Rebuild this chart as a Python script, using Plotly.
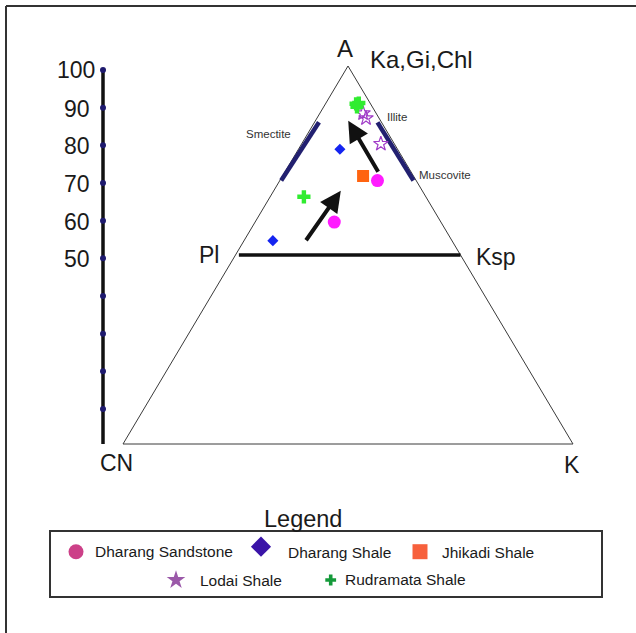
import numpy as np
import plotly.graph_objects as go

# ---------------- data (ternary A - CN - K, percent) ----------------
sand_A = [69.7, 58.7]
sand_CN = [8.6, 23.7]
sand_K = [21.7, 17.6]

dshale_A = [78.0, 53.8]
dshale_CN = [12.8, 39.8]
dshale_K = [9.2, 6.4]

jhikadi_A = [70.9]
jhikadi_CN = [11.2]
jhikadi_K = [17.9]

lodai_A = [87.5, 86.2, 79.4]
lodai_CN = [2.9, 2.9, 3.0]
lodai_K = [9.6, 10.9, 17.6]

rudra_A = [90.0, 90.2, 89.2, 65.4]
rudra_CN = [3.2, 2.5, 3.4, 27.1]
rudra_K = [6.8, 7.3, 7.4, 7.5]

# weathering trend arrows: tail (A, K) -> tip (A, K)
arrow_tail_A = [53.5, 71.6]
arrow_tail_K = [13.7, 21.1]
arrow_tip_A = [67.0, 85.5]
arrow_tip_K = [14.9, 7.3]

# mineral bars along the edges (A range)
bar_A = [85.1, 69.7]

scale_values = [10, 20, 30, 40, 50, 60, 70, 80, 90, 100]
scale_labels = ["100", "90", "80", "70", "60", "50"]
scale_label_values = [100, 90, 80, 70, 60, 50]

legend_names = ["Dharang Sandstone", "Dharang Shale", "Jhikadi Shale",
                "Lodai Shale", "Rudramata Shale"]

FONT = "Liberation Sans, Arial, sans-serif"
TXT = "#1a1a1a"


def txy(A, CN, K):
    A = np.asarray(A, float)
    CN = np.asarray(CN, float)
    K = np.asarray(K, float)
    s = A + CN + K
    a = A / s * 100
    k = K / s * 100
    return k + a / 2, a


fig = go.Figure()

# triangle outline
tx, ty = txy([100, 0, 0, 100], [0, 100, 0, 0], [0, 0, 100, 0])
fig.add_trace(go.Scatter(x=tx, y=ty, mode="lines",
                         line=dict(color="#3a3a3a", width=1), hoverinfo="skip"))

# Pl - Ksp line (A = 50)
px_, py_ = txy([50, 50], [49.25, 0.0], [0.75, 50.0])
fig.add_trace(go.Scatter(x=px_, y=py_, mode="lines",
                         line=dict(color="#111111", width=3.5), hoverinfo="skip"))

# Smectite bar (left edge) and Illite-Muscovite bar (right edge)
sx, sy = txy(bar_A, [100 - bar_A[0] - 1.0, 100 - bar_A[1] - 0.3], [1.0, 0.3])
fig.add_trace(go.Scatter(x=sx, y=sy, mode="lines",
                         line=dict(color="#222070", width=4.5), hoverinfo="skip"))
ix, iy = txy(bar_A, [0.9, 0.6], [100 - bar_A[0] - 0.9, 100 - bar_A[1] - 0.6])
fig.add_trace(go.Scatter(x=ix, y=iy, mode="lines",
                         line=dict(color="#222070", width=4.5), hoverinfo="skip"))

# data points
x, y = txy(sand_A, sand_CN, sand_K)
fig.add_trace(go.Scatter(x=x, y=y, mode="markers", name="Dharang Sandstone",
                         marker=dict(symbol="circle", size=13, color="#ff1cff")))
x, y = txy(dshale_A, dshale_CN, dshale_K)
fig.add_trace(go.Scatter(x=x, y=y, mode="markers", name="Dharang Shale",
                         marker=dict(symbol="diamond", size=8.5, color="#1424f0")))
x, y = txy(jhikadi_A, jhikadi_CN, jhikadi_K)
fig.add_trace(go.Scatter(x=x, y=y, mode="markers", name="Jhikadi Shale",
                         marker=dict(symbol="square", size=12, color="#ff6410")))
x, y = txy(lodai_A, lodai_CN, lodai_K)
fig.add_trace(go.Scatter(x=x, y=y, mode="markers", name="Lodai Shale",
                         marker=dict(symbol="star-open", size=11, color="#a03cc8",
                                     line=dict(width=1.2))))
x, y = txy(rudra_A, rudra_CN, rudra_K)
fig.add_trace(go.Scatter(x=x, y=y, mode="markers", name="Rudramata Shale",
                         marker=dict(symbol="cross", size=11, color="#30ec30")))

# left A scale (own axis y2)
SCALE_X = (103 - 123) / 4.5
fig.add_trace(go.Scatter(x=[SCALE_X, SCALE_X], y=[0.7, 100], mode="lines",
                         line=dict(color="#111111", width=3.5), yaxis="y2",
                         hoverinfo="skip"))
fig.add_trace(go.Scatter(x=[SCALE_X] * len(scale_values), y=scale_values,
                         mode="markers", yaxis="y2",
                         marker=dict(size=6, color="#1e1a6e"), hoverinfo="skip"))

annotations = []
for lab_, v in zip(scale_labels, scale_label_values):
    annotations.append(dict(x=SCALE_X, y=v, xref="x", yref="y2", text=lab_,
                            showarrow=False, xanchor="right", yanchor="middle",
                            xshift=-6 if lab_ == "100" else -11, yshift=0 if lab_ == "100" else -1,
                            font=dict(family=FONT, size=23, color=TXT)))

# arrows
for i in range(len(arrow_tail_A)):
    x0, y0 = txy([arrow_tail_A[i]], [100 - arrow_tail_A[i] - arrow_tail_K[i]], [arrow_tail_K[i]])
    x1, y1 = txy([arrow_tip_A[i]], [100 - arrow_tip_A[i] - arrow_tip_K[i]], [arrow_tip_K[i]])
    annotations.append(dict(x=float(x1[0]), y=float(y1[0]), ax=float(x0[0]), ay=float(y0[0]),
                            xref="x", yref="y", axref="x", ayref="y", text="",
                            showarrow=True, arrowhead=2, arrowsize=1.05, arrowwidth=4,
                            arrowcolor="#111111", standoff=0))


def lab(text, px, py, size=23, xanchor="center", color=TXT):
    annotations.append(dict(x=px, y=py, xref="x3", yref="y3", text=text,
                            showarrow=False, xanchor=xanchor, yanchor="middle",
                            font=dict(family=FONT, size=size, color=color)))


lab("A", 345, 48, 24)
lab("Ka,Gi,Chl", 368, 59, 24, "left")
lab("Pl", 209, 255)
lab("Ksp", 474, 257, 23, "left")
lab("CN", 116, 463)
lab("K", 571.5, 465)
lab("Smectite", 268.5, 134, 11.5, color="#333333")
lab("Illite", 385, 116.5, 11.5, "left", color="#333333")
lab("Muscovite", 417, 175, 11.5, "left", color="#333333")
lab("Legend", 302.5, 519, 23.5)

# legend (manual)
leg_x = [76, 261, 420, 176, 330.7]
leg_y = [551.7, 546.7, 551.7, 580, 580]
leg_sym = ["circle", "diamond", "square", "star", "cross"]
leg_size = [15, 15.5, 15, 14, 9]
leg_col = ["#cc4088", "#3a14a8", "#f7603c", "#9b59a9", "#149a3a"]
for xx, yy, s, sz, c in zip(leg_x, leg_y, leg_sym, leg_size, leg_col):
    fig.add_trace(go.Scatter(x=[xx], y=[yy], xaxis="x3", yaxis="y3", mode="markers",
                             marker=dict(symbol=s, size=sz, color=c), hoverinfo="skip"))
leg_tx = [93.3, 286, 440, 197.7, 342.7]
leg_ty = [551.5, 552.5, 552.5, 580.7, 579]
for name, xx, yy in zip(legend_names, leg_tx, leg_ty):
    lab(name, xx, yy, 15.5, "left")

W, H = 636, 633
shapes = [
    dict(type="line", xref="paper", yref="paper", x0=6 / W, x1=6 / W, y0=0, y1=1 - 6 / H,
         line=dict(color="#333333", width=2)),
    dict(type="line", xref="paper", yref="paper", x0=6 / W, x1=1, y0=1 - 6 / H, y1=1 - 6 / H,
         line=dict(color="#333333", width=2)),
    dict(type="rect", xref="x3", yref="y3", x0=50, x1=602, y0=531, y1=597,
         line=dict(color="#333333", width=2)),
]

fig.update_layout(
    width=W, height=H, margin=dict(l=0, r=0, t=0, b=0),
    paper_bgcolor="white", plot_bgcolor="white", showlegend=False,
    xaxis=dict(range=[-123 / 4.5, (W - 123) / 4.5], visible=False, fixedrange=True),
    yaxis=dict(range=[(444 - H) / 3.78, 444 / 3.78], visible=False, fixedrange=True),
    yaxis2=dict(range=[(446.7 - H) / 3.767, 446.7 / 3.767], overlaying="y",
                visible=False, fixedrange=True),
    xaxis3=dict(range=[0, W], overlaying="x", visible=False, fixedrange=True),
    yaxis3=dict(range=[H, 0], overlaying="y", visible=False, fixedrange=True),
    annotations=annotations, shapes=shapes,
)

fig.write_html("out.html", config={"displayModeBar": False},
               post_script="document.body.style.margin='0';document.body.style.overflow='hidden';")
